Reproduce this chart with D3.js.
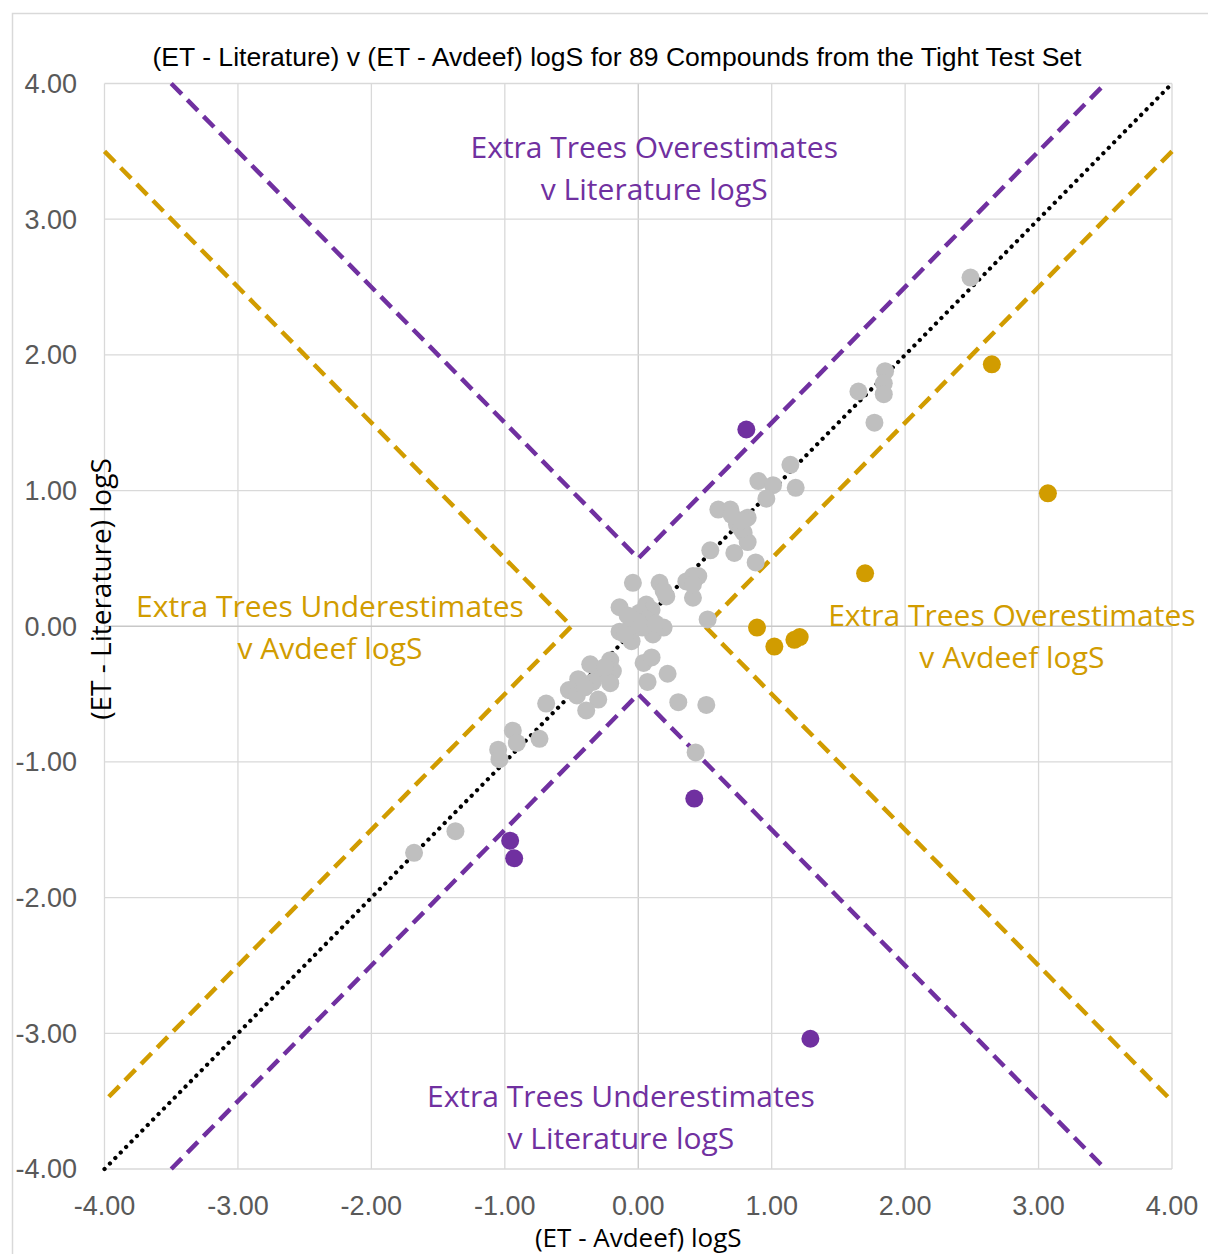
<!DOCTYPE html>
<html>
<head>
<meta charset="utf-8">
<script src="https://cdn.jsdelivr.net/npm/d3@7"></script>
<style>
  body { margin: 0; background: #fff; }
  svg { display: block; }
</style>
</head>
<body>
<div id="chart"></div>
<script>
const title = '(ET - Literature) v (ET - Avdeef) logS for 89 Compounds from the Tight Test Set';
const xLabel = '(ET - Avdeef) logS';
const yLabel = '(ET - Literature) logS';
const ticks = [-4, -3, -2, -1, 0, 1, 2, 3, 4];

const grayPoints = [
  [2.49, 2.57], [1.85, 1.88], [1.84, 1.79], [1.84, 1.71], [1.65, 1.73], [1.77, 1.50],
  [1.14, 1.19], [1.18, 1.02], [0.90, 1.07], [1.01, 1.04], [0.96, 0.94], [0.60, 0.86],
  [0.69, 0.86], [0.82, 0.80], [0.74, 0.75], [0.79, 0.69], [0.82, 0.62], [0.72, 0.54],
  [0.54, 0.56], [0.88, 0.47], [0.41, 0.37], [0.36, 0.33], [0.41, 0.21], [0.45, 0.37],
  [0.41, 0.31], [0.52, 0.05], [-0.04, 0.32], [0.16, 0.32], [0.21, 0.22], [0.19, 0.26],
  [-0.14, 0.14], [0.06, 0.16], [0.10, 0.12], [0.01, 0.10], [-0.04, 0.05], [0.06, 0.05],
  [-0.14, -0.04], [-0.06, -0.01], [-0.05, -0.11], [0.11, -0.06], [0.19, -0.01], [0.03, -0.01],
  [0.04, -0.27], [0.10, -0.23], [0.07, -0.41], [0.22, -0.35], [0.30, -0.56], [0.51, -0.58],
  [-0.36, -0.28], [-0.21, -0.25], [-0.19, -0.33], [-0.29, -0.35], [-0.45, -0.39], [-0.52, -0.47],
  [-0.46, -0.51], [-0.34, -0.41], [-0.21, -0.42], [-0.30, -0.54], [-0.39, -0.62], [-0.69, -0.57],
  [-0.94, -0.77], [-0.74, -0.83], [-0.91, -0.86], [-1.05, -0.91], [-1.04, -0.98], [-1.37, -1.51],
  [-1.68, -1.67], [0.43, -0.93], [0.70, 0.82], [0.77, 0.72], [0.00, 0.03], [-0.08, 0.08],
  [0.13, 0.02], [-0.25, -0.30], [-0.40, -0.45], [0.78, 0.78], [-0.10, -0.06]
];
const purplePoints = [[0.81, 1.45], [0.42, -1.27], [-0.96, -1.58], [-0.93, -1.71], [1.29, -3.04]];
const goldPoints = [[2.65, 1.93], [3.07, 0.98], [1.70, 0.39], [0.89, -0.01], [1.02, -0.15], [1.17, -0.10], [1.21, -0.08]];

const purpleBounds = [[[-3.5, 4], [0, 0.5], [3.5, 4]], [[-3.5, -4], [0, -0.5], [3.5, -4]]];
const goldBounds = [[[-4, 3.5], [-0.5, 0], [-4, -3.5]], [[4, 3.5], [0.5, 0], [4, -3.5]]];
const parity = [[-4, -4], [4, 4]];

const purpleNotes = [
  { at: [0.12, 3.45], lines: ['Extra Trees Overestimates', 'v Literature logS'] },
  { at: [-0.13, -3.54], lines: ['Extra Trees Underestimates', 'v Literature logS'] }
];
const goldNotes = [
  { at: [-2.31, 0.07], lines: ['Extra Trees Underestimates', 'v Avdeef logS'] },
  { at: [2.80, 0.00], lines: ['Extra Trees Overestimates', 'v Avdeef logS'] }
];

const colors = { gray: '#bfbfbf', purple: '#7030a0', gold: '#d19c00', grid: '#d9d9d9', tick: '#595959' };

const W = 1208, H = 1254;
const svg = d3.select('#chart').append('svg').attr('width', W).attr('height', H);

svg.append('rect').attr('x', 12.5).attr('y', 13.5).attr('width', W).attr('height', H)
  .attr('fill', '#fff').attr('stroke', colors.grid).attr('stroke-width', 1.5);

const x = d3.scaleLinear().domain([-4, 4]).range([104.5, 1172]);
const y = d3.scaleLinear().domain([-4, 4]).range([1169, 83.5]);

svg.append('g').selectAll('line').data(ticks).enter().append('line')
  .attr('x1', d => x(d)).attr('x2', d => x(d)).attr('y1', y(4)).attr('y2', y(-4))
  .attr('stroke', d => d === 0 ? '#c8c8c8' : colors.grid).attr('stroke-width', 1.3);
svg.append('g').selectAll('line').data(ticks).enter().append('line')
  .attr('y1', d => y(d)).attr('y2', d => y(d)).attr('x1', x(-4)).attr('x2', x(4))
  .attr('stroke', d => d === 0 ? '#c8c8c8' : colors.grid).attr('stroke-width', 1.3);

const fmt = d => d3.format('.2f')(d).replace('\u2212', '-');
const tickFont = '"Liberation Sans Narrow", "Arial Narrow", sans-serif';
svg.append('g').selectAll('text').data(ticks).enter().append('text')
  .attr('x', 77).attr('y', d => y(d)).attr('dy', '0.35em').attr('text-anchor', 'end')
  .attr('font-family', tickFont).attr('font-size', 27).attr('fill', colors.tick)
  .text(d => fmt(d));
svg.append('g').selectAll('text').data(ticks).enter().append('text')
  .attr('x', d => x(d)).attr('y', 1215).attr('text-anchor', 'middle')
  .attr('font-family', tickFont).attr('font-size', 27).attr('fill', colors.tick)
  .text(d => fmt(d));

const line = d3.line().x(d => x(d[0])).y(d => y(d[1]));
svg.append('path').datum(parity).attr('d', line).attr('fill', 'none')
  .attr('stroke', '#000').attr('stroke-width', 4.2).attr('stroke-linecap', 'round')
  .attr('stroke-dasharray', '0.1 7.6');
svg.append('g').selectAll('path').data(purpleBounds).enter().append('path')
  .attr('d', line).attr('fill', 'none').attr('stroke', colors.purple)
  .attr('stroke-width', 4.5).attr('stroke-dasharray', '15 8');
svg.append('g').selectAll('path').data(goldBounds).enter().append('path')
  .attr('d', line).attr('fill', 'none').attr('stroke', colors.gold)
  .attr('stroke-width', 4.5).attr('stroke-dasharray', '15 8');

const dots = (pts, fill) => svg.append('g').selectAll('circle').data(pts).enter().append('circle')
  .attr('cx', d => x(d[0])).attr('cy', d => y(d[1])).attr('r', 9).attr('fill', fill);
dots(grayPoints, colors.gray);
dots(purplePoints, colors.purple);
dots(goldPoints, colors.gold);

const noteFont = '"Open Sans", "Noto Sans", sans-serif';
const notes = (list, fill) => list.forEach(n => {
  const t = svg.append('text').attr('text-anchor', 'middle').attr('font-family', noteFont)
    .attr('font-size', 30).attr('fill', fill);
  n.lines.forEach((s, i) => t.append('tspan').attr('x', x(n.at[0]))
    .attr('y', y(n.at[1]) + i * 42).text(s));
});
notes(purpleNotes, colors.purple);
notes(goldNotes, colors.gold);

svg.append('text').attr('x', 617).attr('y', 66).attr('text-anchor', 'middle')
  .attr('font-family', tickFont).attr('font-size', 26).attr('fill', '#000')
  .attr('textLength', 929).attr('lengthAdjust', 'spacingAndGlyphs').text(title);

svg.append('text').attr('x', x(0)).attr('y', 1247).attr('text-anchor', 'middle')
  .attr('font-family', noteFont).attr('font-size', 26).attr('fill', '#000').text(xLabel);
svg.append('text').attr('transform', `translate(111,${589}) rotate(-90)`).attr('text-anchor', 'middle')
  .attr('font-family', noteFont).attr('font-size', 28).attr('fill', '#000').text(yLabel);
</script>
</body>
</html>
